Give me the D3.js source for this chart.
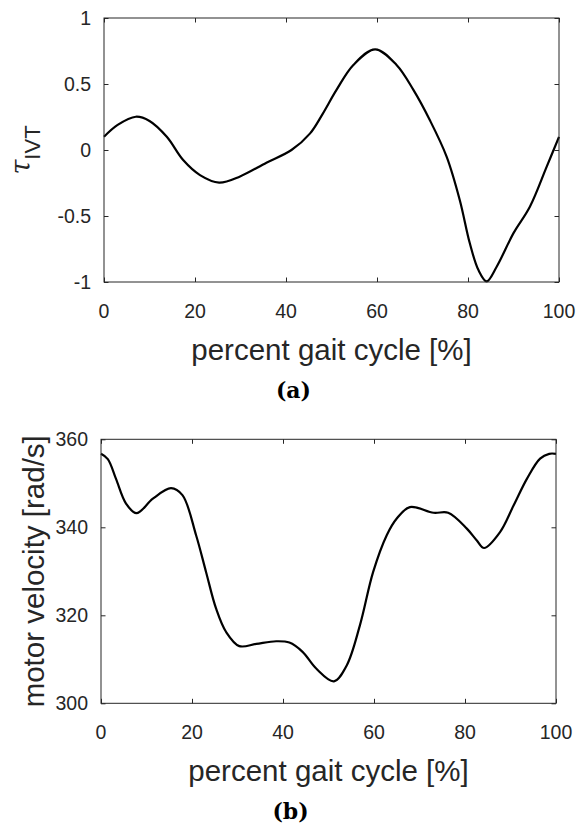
<!DOCTYPE html>
<html>
<head>
<meta charset="utf-8">
<script src="https://cdn.jsdelivr.net/npm/d3@7"></script>
<style>
  body { margin: 0; background: #fff; }
  svg text { font-family: "Liberation Sans", Arial, sans-serif; fill: #262626; }
</style>
</head>
<body>
<svg width="576" height="823"></svg>
<script>
// --- Data ---
const tauPct = [0, 3, 7, 10, 13.8, 17.4, 21.1, 25.3, 29.9, 35.7, 41.2, 45.3, 48, 51.1, 54.8,
    59.6, 64.3, 68, 71.6, 75.3, 78.2, 80.4, 82.3, 84.1, 86.3, 90, 93.6, 97.3, 100];
const tauVal = [0.10, 0.19, 0.252, 0.22, 0.10, -0.076, -0.19, -0.247, -0.20, -0.096, 0.0, 0.126, 0.27, 0.455, 0.644,
    0.763, 0.644, 0.455, 0.227, -0.05, -0.38, -0.707, -0.91, -0.995, -0.884, -0.63, -0.43, -0.126, 0.10];

const velPct = [0, 1.5, 3.3, 5.5, 7.8, 11.4, 15.4, 17.9, 20.9, 23.1, 25.3, 27.5, 30.4, 34.1, 38.5,
    41.4, 44.3, 47.3, 51.2, 54.0, 56.9, 59.8, 62.8, 65.0, 67.9, 73.1, 76.3, 80.4, 82.6, 84.2,
    87.7, 90.7, 93.6, 96.5, 98.5, 100];
const velVal = [356.7, 355.5, 351.0, 345.4, 343.2, 346.5, 348.9, 347.3, 338.2, 329.8, 321.5, 316.2, 313.0, 313.5, 314.1,
    313.8, 311.7, 307.9, 305.0, 308.6, 317.7, 329.8, 338.2, 342.0, 344.6, 343.3, 343.3, 339.7, 337.0, 335.3,
    338.9, 345.0, 351.0, 355.6, 356.7, 356.7];

const xTicks = [0, 20, 40, 60, 80, 100];
const tauTicks = [-1, -0.5, 0, 0.5, 1];
const tauTickLabels = ["-1", "-0.5", "0", "0.5", "1"];
const velTicks = [300, 320, 340, 360];

const svg = d3.select("svg");
const axisColor = "#262626";

// --- draw one MATLAB-style box panel ---
function drawPanel(opt) {
    const g = svg.append("g").attr("transform", `translate(${opt.left},${opt.top})`);
    const w = opt.width, h = opt.height;

    const x = d3.scaleLinear().domain([0, 100]).range([0, w]);
    const y = d3.scaleLinear().domain(opt.yDomain).range([h, 0]);
    const tl = 4.5;

    // ticks inside, on all four sides
    const axes = [
        d3.axisBottom(x).tickValues(xTicks).tickSizeInner(-tl).tickSizeOuter(0).tickFormat(""),
        d3.axisTop(x).tickValues(xTicks).tickSizeInner(-tl).tickSizeOuter(0).tickFormat(""),
        d3.axisLeft(y).tickValues(opt.yTicks).tickSizeInner(-tl).tickSizeOuter(0).tickFormat(""),
        d3.axisRight(y).tickValues(opt.yTicks).tickSizeInner(-tl).tickSizeOuter(0).tickFormat("")
    ];
    const pos = [[0, h], [0, 0], [0, 0], [w, 0]];
    axes.forEach((a, i) => {
        const ag = g.append("g").attr("transform", `translate(${pos[i][0]},${pos[i][1]})`).call(a);
        ag.selectAll("line").attr("stroke", axisColor).attr("stroke-width", 1);
        ag.select(".domain").remove();
    });

    // curve
    const line = d3.line()
        .x((d, i) => x(opt.xs[i]))
        .y(d => y(d))
        .curve(d3.curveCatmullRom.alpha(0.5));
    g.append("path")
        .datum(opt.ys)
        .attr("d", line)
        .attr("fill", "none")
        .attr("stroke", "#000")
        .attr("stroke-width", 2.2)
        .attr("stroke-linejoin", "round");

    // box
    g.append("rect")
        .attr("width", w).attr("height", h)
        .attr("fill", "none")
        .attr("stroke", axisColor)
        .attr("stroke-width", 1);

    // tick labels
    g.selectAll(".xl").data(xTicks).enter().append("text")
        .attr("x", d => x(d))
        .attr("y", h + 36)
        .attr("text-anchor", "middle")
        .attr("font-size", "19.5px")
        .text(d => d);

    g.selectAll(".yl").data(opt.yTicks).enter().append("text")
        .attr("x", -13)
        .attr("y", d => y(d) + 7)
        .attr("text-anchor", "end")
        .attr("font-size", "19.5px")
        .text((d, i) => opt.yLabels[i]);

    // x label
    g.append("text")
        .attr("x", w / 2)
        .attr("y", h + 78)
        .attr("text-anchor", "middle")
        .attr("font-size", "29.5px")
        .text("percent gait cycle [%]");

    // panel caption
    svg.append("text")
        .attr("x", opt.left + w / 2 - 38)
        .attr("y", opt.top + h + 116)
        .attr("text-anchor", "middle")
        .style("font-family", "'DejaVu Serif', serif")
        .style("font-weight", "bold")
        .style("font-size", "22px")
        .style("fill", "#000")
        .text(opt.caption);

    return g;
}

const gA = drawPanel({
    left: 104, top: 18, width: 455, height: 264,
    yDomain: [-1, 1], yTicks: tauTicks, yLabels: tauTickLabels,
    xs: tauPct, ys: tauVal, caption: "(a)"
});

const gB = drawPanel({
    left: 101, top: 439.3, width: 455, height: 264,
    yDomain: [300, 360], yTicks: velTicks, yLabels: velTicks.map(String),
    xs: velPct, ys: velVal, caption: "(b)"
});

// y labels
const tauLabel = svg.append("text")
    .attr("transform", "translate(30,150) rotate(-90)")
    .attr("text-anchor", "middle");
tauLabel.append("tspan")
    .style("font-family", "'DejaVu Serif', serif")
    .style("font-style", "italic")
    .style("font-size", "27px")
    .text("τ");
tauLabel.append("tspan")
    .attr("font-size", "22px")
    .attr("dy", 10)
    .text("IVT");

svg.append("text")
    .attr("transform", "translate(44,571.3) rotate(-90)")
    .attr("text-anchor", "middle")
    .attr("font-size", "29.5px")
    .text("motor velocity [rad/s]");
</script>
</body>
</html>
